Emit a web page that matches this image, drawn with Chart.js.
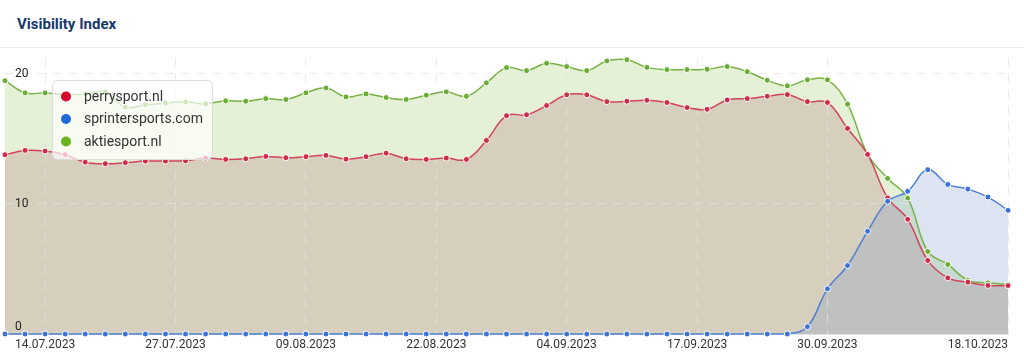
<!DOCTYPE html>
<html>
<head>
<meta charset="utf-8">
<script src="https://cdn.jsdelivr.net/npm/chart.js@4.4.0/dist/chart.umd.min.js"></script>
<style>
  html, body { margin: 0; padding: 0; background: #fff; }
  body { width: 1024px; height: 355px; overflow: hidden; font-family: Roboto, sans-serif; }
  .head { height: 47px; border-bottom: 1px solid #ebebeb; }
  .head h1 { margin: 0; padding-left: 17px; font: bold 15px Roboto, sans-serif; line-height: 48px; color: #17386a; }
  .box { position: relative; width: 1024px; height: 307px; }
</style>
</head>
<body>
<div class="head"><h1>Visibility Index</h1></div>
<div class="box"><canvas id="chart"></canvas></div>
<script>
// one point every two days
const dates = [
  '10.07.2023','12.07.2023','14.07.2023','16.07.2023','18.07.2023','20.07.2023','22.07.2023','24.07.2023','26.07.2023','28.07.2023','30.07.2023',
  '01.08.2023','03.08.2023','05.08.2023','07.08.2023','09.08.2023','11.08.2023','13.08.2023','15.08.2023','17.08.2023','19.08.2023','21.08.2023','23.08.2023','25.08.2023','27.08.2023','29.08.2023','31.08.2023',
  '02.09.2023','04.09.2023','06.09.2023','08.09.2023','10.09.2023','12.09.2023','14.09.2023','16.09.2023','18.09.2023','20.09.2023','22.09.2023','24.09.2023','26.09.2023','28.09.2023','30.09.2023',
  '02.10.2023','04.10.2023','06.10.2023','08.10.2023','10.10.2023','12.10.2023','14.10.2023','16.10.2023','18.10.2023'
];
const tickDates = ['14.07.2023','27.07.2023','09.08.2023','22.08.2023','04.09.2023','17.09.2023','30.09.2023','18.10.2023'];
const yTicks = [0, 10, 20];

const perrysport = [
  13.77,14.10,14.05,13.77,13.20,13.08,13.16,13.28,13.28,13.31,
  13.51,13.41,13.46,13.64,13.54,13.62,13.72,13.43,13.62,13.89,
  13.46,13.41,13.51,13.41,14.87,16.77,16.84,17.55,18.37,18.37,
  17.85,17.88,17.95,17.78,17.39,17.26,17.98,18.08,18.26,18.39,
  17.85,17.78,15.79,13.79,10.46,8.81,5.65,4.31,3.98,3.73,3.72
];
const sprintersports = [
  0,0,0,0,0,0,0,0,0,0,
  0,0,0,0,0,0,0,0,0,0,
  0,0,0,0,0,0,0,0,0,0,
  0,0,0,0,0,0,0,0,0,0,
  0.56,3.47,5.26,7.89,10.19,10.96,12.62,11.49,11.13,10.52,9.50
];
const aktiesport = [
  19.46,18.52,18.52,18.39,18.44,18.60,17.42,17.60,17.75,17.83,
  17.68,17.91,17.88,18.08,18.01,18.52,18.90,18.21,18.44,18.16,
  18.01,18.34,18.60,18.26,19.29,20.46,20.23,20.79,20.54,20.23,
  20.97,21.07,20.48,20.31,20.31,20.33,20.54,20.15,19.49,19.06,
  19.52,19.52,17.65,13.82,11.95,10.44,6.34,5.34,4.14,3.93,3.80
];

function dayNum(s) {
  const p = s.split('.');
  return Date.UTC(+p[2], +p[1] - 1, +p[0]) / 86400000;
}
const day0 = dayNum(dates[0]);
const xs = dates.map(d => dayNum(d) - day0);
const tickXs = tickDates.map(d => dayNum(d) - day0);

const gridColor = 'rgba(228,228,228,0.7)';
const font = { family: 'Roboto', size: 12 };

function series(label, values, line, point, fill, dot, order) {
  return {
    label: label,
    data: values.map((v, i) => ({ x: xs[i], y: v })),
    borderColor: line,
    borderWidth: 1.5,
    backgroundColor: fill,
    pointBackgroundColor: point,
    pointBorderColor: '#fff',
    pointBorderWidth: 1,
    pointRadius: 3,
    tension: 0.4,
    fill: 'origin',
    clip: 4,
    order: order,
    legendColor: dot
  };
}

// legend box floating over the plot
const boxLegend = {
  id: 'boxLegend',
  afterDraw(chart) {
    const ctx = chart.ctx;
    ctx.save();
    ctx.beginPath();
    ctx.roundRect(52.5, 32.5, 160, 79, 5);
    ctx.fillStyle = 'rgba(255,255,255,0.68)';
    ctx.fill();
    ctx.strokeStyle = '#dcdcdc';
    ctx.lineWidth = 1;
    ctx.stroke();
    ctx.font = '14px Roboto';
    ctx.textBaseline = 'middle';
    chart.data.datasets.forEach((ds, i) => {
      const y = 48.5 + i * 22.5;
      ctx.beginPath();
      ctx.arc(66, y, 5, 0, Math.PI * 2);
      ctx.fillStyle = ds.legendColor;
      ctx.fill();
      ctx.fillStyle = '#333';
      ctx.fillText(ds.label, 84, y + 0.5);
    });
    ctx.restore();
  }
};

new Chart(document.getElementById('chart'), {
  type: 'line',
  data: {
    datasets: [
      series('perrysport.nl', perrysport, '#d2435a', '#cf2c48', 'rgba(204,173,163,0.5)', '#d50a2c', 1),
      series('sprintersports.com', sprintersports, '#4f80d8', '#3b73d6', 'rgba(125,155,205,0.27)', '#1d6ad8', 0),
      series('aktiesport.nl', aktiesport, '#78b245', '#6aae31', 'rgba(106,176,35,0.18)', '#6bb320', 2)
    ]
  },
  options: {
    responsive: true,
    maintainAspectRatio: false,
    animation: false,
    events: [],
    layout: { padding: { left: 0, right: 16, top: 10, bottom: 0 } },
    plugins: {
      legend: { display: false },
      tooltip: { enabled: false },
      filler: { drawTime: 'beforeDraw' }
    },
    scales: {
      x: {
        type: 'linear',
        min: 0,
        max: xs[xs.length - 1],
        afterBuildTicks(s) { s.ticks = [0].concat(tickXs).map(v => ({ value: v })); },
        afterFit(s) { s.height = 21; s.paddingLeft = 0; s.paddingRight = 0; },
        grid: {
          drawTicks: false,
          color: c => c.index === 0 ? 'rgba(0,0,0,0)' : gridColor
        },
        border: { display: true, color: '#e3e3e3', dash: [9, 7] },
        ticks: {
          autoSkip: false,
          maxRotation: 0,
          align: 'inner',
          padding: 4,
          color: '#333',
          font: font,
          callback: v => {
            const k = tickXs.indexOf(v);
            return k < 0 ? '' : tickDates[k];
          }
        }
      },
      y: {
        min: 0,
        max: 21.2,
        afterBuildTicks(s) { s.ticks = yTicks.map(v => ({ value: v })); },
        afterFit(s) { s.width = 0; s.paddingTop = 0; s.paddingBottom = 0; },
        grid: {
          drawTicks: false,
          color: c => c.tick && c.tick.value === 0 ? 'rgba(0,0,0,0)' : gridColor
        },
        border: { display: false, dash: [9, 7] },
        ticks: {
          mirror: true,
          padding: 10,
          color: '#222',
          font: font,
          callback: v => v === 0 ? ['0', ''] : String(v)
        }
      }
    }
  },
  plugins: [boxLegend]
});
</script>
</body>
</html>
